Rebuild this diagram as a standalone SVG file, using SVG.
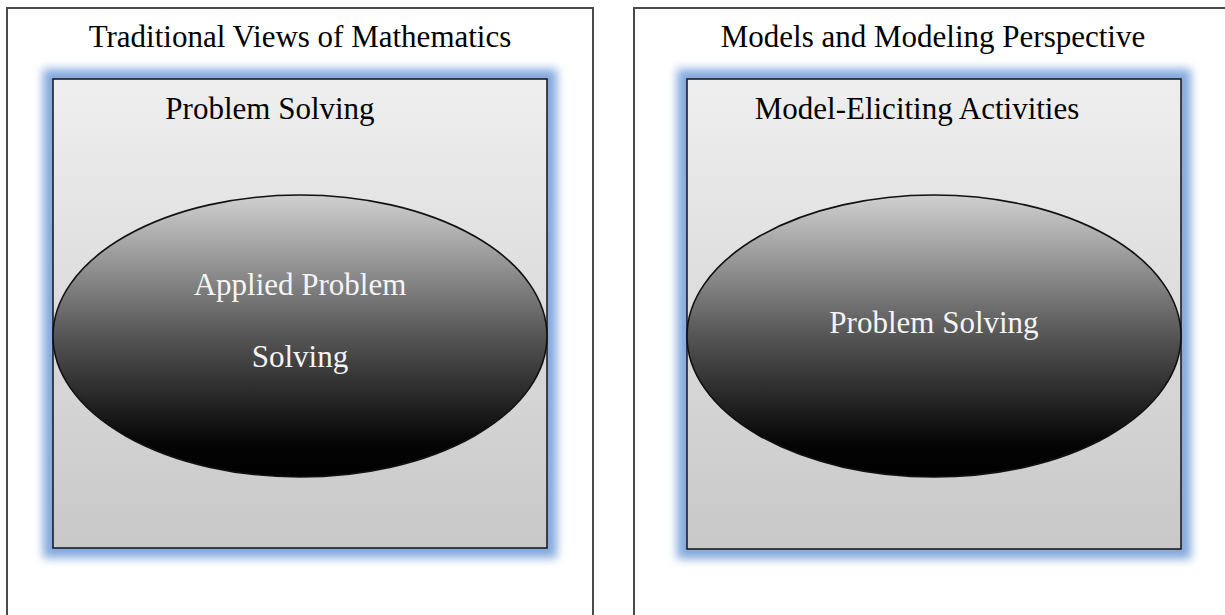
<svg xmlns="http://www.w3.org/2000/svg" width="1225" height="615" viewBox="0 0 1225 615">
  <style>
    .frame { fill: #ffffff; stroke: #4a4a4a; stroke-width: 2; }
    .panel { fill: url(#panelFill); stroke: #1e1e1e; stroke-width: 1.6; }
    .glow { fill: #84a9de; filter: url(#soft); }
    .oval { fill: url(#ovalFill); stroke: #111111; stroke-width: 1.6; }
    .title { font-size: 31px; fill: #000000; text-anchor: middle; }
    .inner { font-size: 31px; fill: #f5f5f5; text-anchor: middle; }
  </style>
  <defs>
    <linearGradient id="panelFill" x1="0" y1="0" x2="0" y2="1">
      <stop offset="0" stop-color="#efefef"/>
      <stop offset="1" stop-color="#c8c8c8"/>
    </linearGradient>
    <linearGradient id="ovalFill" x1="0" y1="0" x2="0" y2="1">
      <stop offset="0" stop-color="#d0d0d0"/>
      <stop offset="0.5" stop-color="#555555"/>
      <stop offset="0.88" stop-color="#050505"/>
      <stop offset="1" stop-color="#000000"/>
    </linearGradient>
    <filter id="soft" x="-10%" y="-10%" width="120%" height="120%">
      <feGaussianBlur stdDeviation="5"/>
    </filter>
  </defs>

  <rect width="1225" height="615" fill="#ffffff"/>

  <!-- left column: traditional views -->
  <g id="traditional">
    <rect class="frame" x="7" y="8" width="586" height="640"/>
    <text class="title" font-family="Liberation Serif, serif" x="300" y="47">Traditional Views of Mathematics</text>
  </g>
  <g id="problem-solving-left">
    <rect class="glow" x="43" y="69" width="514" height="489"/>
    <rect class="panel" x="53" y="79" width="494" height="469"/>
    <text class="title" font-family="Liberation Serif, serif" x="270" y="119">Problem Solving</text>
  </g>
  <g id="applied-problem-solving">
    <ellipse class="oval" cx="300" cy="336" rx="247" ry="141"/>
    <text class="inner" font-family="Liberation Serif, serif" x="300" y="295">Applied Problem</text>
    <text class="inner" font-family="Liberation Serif, serif" x="300" y="367">Solving</text>
  </g>

  <!-- right column: models and modeling -->
  <g id="models-modeling">
    <rect class="frame" x="634" y="8" width="620" height="640"/>
    <text class="title" font-family="Liberation Serif, serif" x="933" y="47">Models and Modeling Perspective</text>
  </g>
  <g id="model-eliciting">
    <rect class="glow" x="677" y="69" width="514" height="490"/>
    <rect class="panel" x="687" y="79" width="494" height="470"/>
    <text class="title" font-family="Liberation Serif, serif" x="917" y="119">Model-Eliciting Activities</text>
  </g>
  <g id="problem-solving-right">
    <ellipse class="oval" cx="934" cy="336" rx="247" ry="141"/>
    <text class="inner" font-family="Liberation Serif, serif" x="934" y="333">Problem Solving</text>
  </g>

  <g id="connectors"/>
</svg>
